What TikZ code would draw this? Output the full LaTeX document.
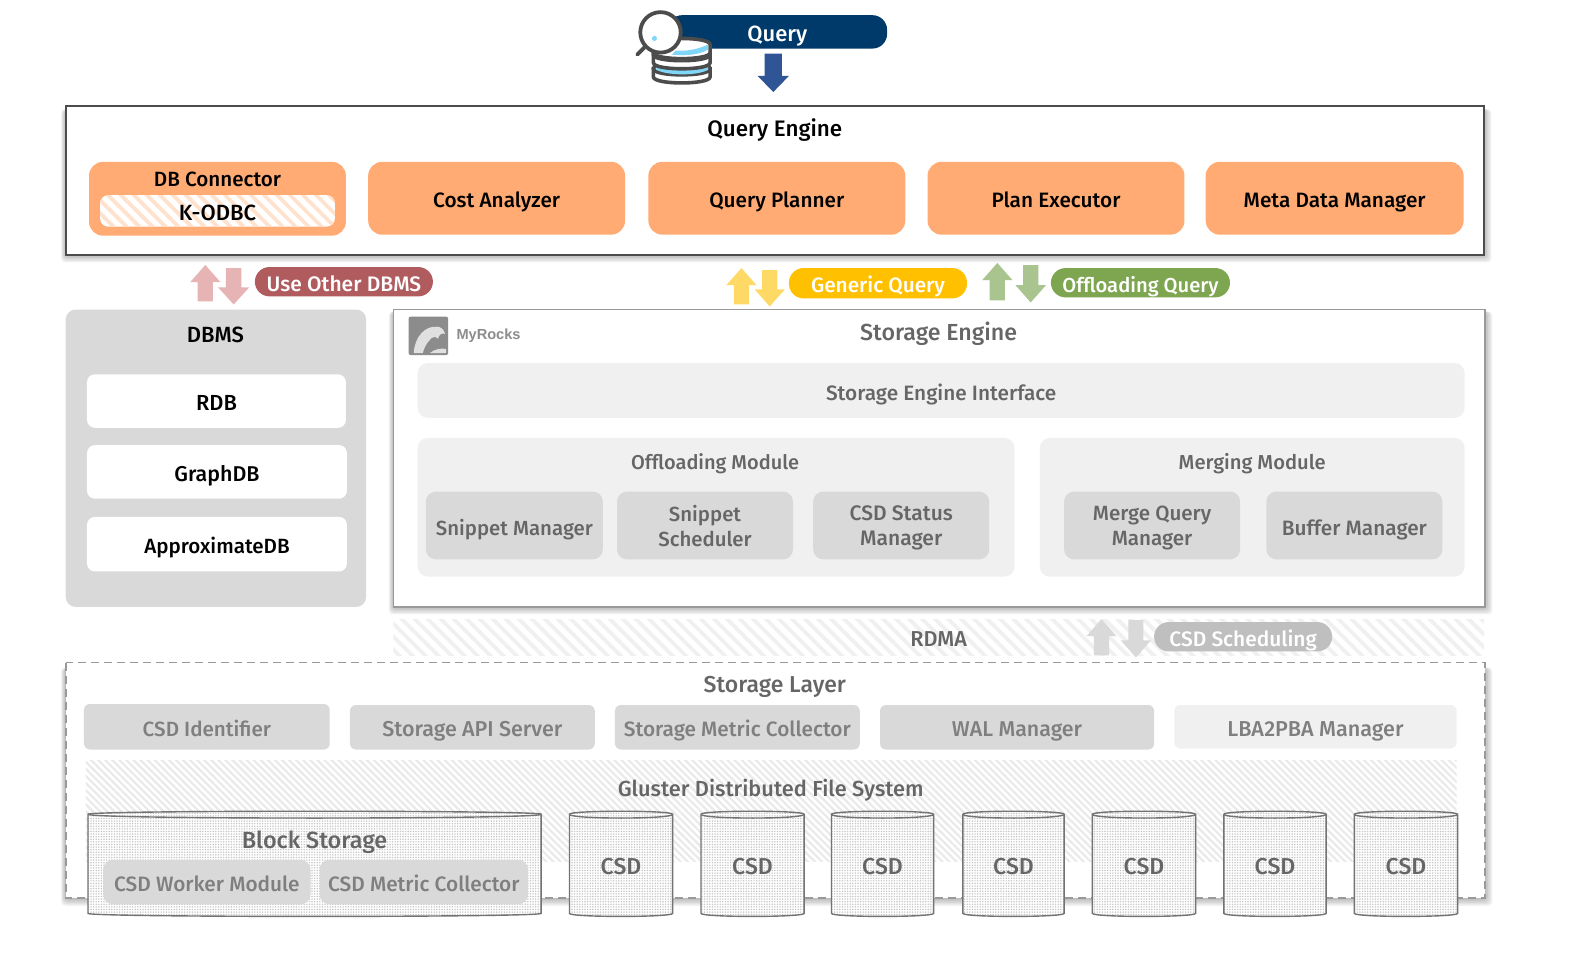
\documentclass[tikz,border=0pt]{standalone}
\usepackage{fontspec}
\setmainfont{Fira Sans Medium}
\usetikzlibrary{patterns.meta}
\definecolor{navy}{HTML}{003A6B}
\definecolor{barrow}{HTML}{2F5597}
\definecolor{orangebox}{HTML}{FFAB73}
\definecolor{txtgray}{HTML}{666666}
\definecolor{txtlight}{HTML}{7F7F7F}
\definecolor{dbgray}{HTML}{D9D9D9}
\definecolor{panel}{HTML}{F0F0F0}
\definecolor{hatchgray}{HTML}{EAEAEA}
\definecolor{redpill}{HTML}{B05C5F}
\definecolor{redarrow}{HTML}{E6B4B4}
\definecolor{yelpill}{HTML}{FFC000}
\definecolor{yelarrow}{HTML}{FFD966}
\definecolor{grnpill}{HTML}{7EA650}
\definecolor{grnarrow}{HTML}{A9C48E}
\newcommand{\lblstrutA}{\rule{0pt}{12.6pt}}
\newcommand{\lblstrutB}{\rule[-3pt]{0pt}{3pt}}
\tikzset{
  x=0.50574pt,y=-0.50574pt,
  fs/.style={font=\fontsize{#1}{12.6}\selectfont},
  lbl/.style={fs=10.4,align=center,inner sep=0pt,text=black,
     execute at begin node=\lblstrutA,execute at end node=\lblstrutB},
  glbl/.style={lbl,text=txtgray},
  twoline/.style={glbl,yshift=-1.5pt},
  llbl/.style={lbl,text=txtlight},
  wlbl/.style={lbl,text=white},
  orangeb/.style={fill=orangebox,rounded corners=7pt},
  whiteb/.style={fill=white,rounded corners=4pt},
  panelb/.style={fill=panel,rounded corners=5pt},
  grayb/.style={fill=dbgray,rounded corners=5pt},
  smallg/.style={fill=dbgray,rounded corners=3pt},
  smallp/.style={fill=panel,rounded corners=3pt},
  pill/.style={rounded corners=7.3pt},
  hatchwide/.style={pattern={Lines[angle=-45,distance=4.6pt,line width=1.9pt]},pattern color=#1},
  hatchfine/.style={pattern={Lines[angle=-45,distance=2.5pt,line width=1.1pt]},pattern color=#1},
  cyl/.style={draw=black!55,line width=0.7pt,
     preaction={fill=white},pattern={Dots[distance=1.3pt,radius=.42pt]},pattern color=black!22},
}
\newcommand{\softshadow}[4]{%
  \foreach \e in {0,1.5,...,7.5}{\fill[black,opacity=.055,rounded corners=2pt] (#1-\e*.6,#2) rectangle (#3+\e,#4+\e);}}
\newcommand{\uparrowblk}[5]{\fill[#5] (#1,#2) -- (#1+#4,#2+17) -- (#1+#4*0.5,#2+17) -- (#1+#4*0.5,#3) -- (#1-#4*0.5,#3) -- (#1-#4*0.5,#2+17) -- (#1-#4,#2+17) -- cycle;}
\newcommand{\downarrowblk}[5]{\fill[#5] (#1,#3) -- (#1+#4,#3-17) -- (#1+#4*0.5,#3-17) -- (#1+#4*0.5,#2) -- (#1-#4*0.5,#2) -- (#1-#4*0.5,#3-17) -- (#1-#4,#3-17) -- cycle;}
\newcommand{\bx}[8]{\path[#6] (#2,#3) rectangle node[#7] (#1) {#8} (#4,#5);}
\newcommand{\cylbody}[2]{%
  \path[cyl] (#1,805) -- (#1,903) .. controls (#1,907) and (#2,907) .. (#2,903) -- (#2,805) .. controls (#2,801) and (#1,801) .. (#1,805) -- cycle;
  \path[draw=black!55,line width=0.7pt] (#1,805) .. controls (#1,810) and (#2,810) .. (#2,805);}
\newcommand{\cylinder}[4]{%
  \cylbody{#2}{#3}
  \node[glbl,fs=11.5] (#1) at ({(#2+#3)/2},855) {#4};}
\begin{document}
\begin{tikzpicture}
\useasboundingbox (0,0) rectangle (1568,948);
\fill[white] (0,0) rectangle (1568,948);

% Query
\bx{query}{660}{15}{877}{48}{fill=navy,pill}{wlbl,fs=11}{Query}
\fill[barrow] (764.5,91) -- (780,75) -- (773,75) -- (773,53) -- (756,53) -- (756,75) -- (749,75) -- cycle;
% icon
\foreach \yy in {68,54}{
  \fill[white,draw=black!70,line width=1.8pt] (646,\yy) -- (646,\yy+8) .. controls (646,\yy+16) and (702,\yy+16) .. (702,\yy+8) -- (702,\yy) -- cycle;
  \fill[white,draw=black!70,line width=1.8pt] (646,\yy) .. controls (646,\yy-8) and (702,\yy-8) .. (702,\yy) .. controls (702,\yy+8) and (646,\yy+8) .. (646,\yy) -- cycle;
  \fill[cyan!50] (649,\yy+1) .. controls (660,\yy+7) and (690,\yy+7) .. (700,\yy+1) -- (700,\yy-3) .. controls (690,\yy+2) and (660,\yy+2) .. (649,\yy-3) -- cycle;
}
\fill[white,draw=black!70,line width=1.8pt] (646,44) -- (646,52) .. controls (646,60) and (702,60) .. (702,52) -- (702,44) .. controls (702,36) and (646,36) .. (646,44) -- cycle;
\fill[cyan!50] (668,50) .. controls (680,51) and (692,48) .. (700,44) -- (700,49) .. controls (690,55) and (675,55) .. (664,54) -- cycle;
\draw[black!70,line width=1.9pt,line cap=round] (637,47) -- (630,54);
\draw[black!70,line width=1.9pt,fill=white] (653,32) circle (20);
\fill[cyan!50] (647,38) circle (2.5);

% Query Engine
\softshadow{65}{108}{1467}{252}
\path[draw=black!70,line width=1.2pt,fill=white] (65,105) rectangle (1467,252);
\node[lbl,fs=11.2] (qe) at (766,125) {Query Engine};
\path[orangeb] (88,160) rectangle (342,233);
\node[lbl,fs=10.3] (dbctext) at (215,175) {DB Connector};
\fill[white,rounded corners=4pt] (99,193) rectangle (331,224);
\bx{kodbc}{99}{193}{331}{224}{hatchwide=orangebox!35,rounded corners=4pt}{lbl,fs=11}{K-ODBC}
\bx{cost}{364}{160}{618}{232}{orangeb}{lbl}{Cost Analyzer}
\bx{planner}{641}{160}{895}{232}{orangeb}{lbl}{Query Planner}
\bx{executor}{917}{160}{1171}{232}{orangeb}{lbl}{Plan Executor}
\bx{meta}{1192}{160}{1447}{232}{orangeb}{lbl}{Meta Data Manager}

% arrows between layers
\uparrowblk{203}{262}{298}{15}{redarrow}
\downarrowblk{231}{265}{301}{15.5}{redarrow}
\bx{other}{252}{264}{428}{293}{fill=redpill,pill}{wlbl,fs=10.5}{Use Other DBMS}
\uparrowblk{733}{265}{301}{15}{yelarrow}
\downarrowblk{761}{267}{303}{15}{yelarrow}
\bx{generic}{780}{265}{956}{295}{fill=yelpill,pill}{wlbl}{Generic Query}
\uparrowblk{986}{260}{297}{15}{grnarrow}
\downarrowblk{1019}{262}{299}{15}{grnarrow}
\bx{offq}{1039}{265}{1216}{294}{fill=grnpill,pill}{wlbl,fs=10.1}{Offloading Query}

% DBMS
\path[grayb] (65,306) rectangle (362,600);
\node[lbl,fs=11] (dbms) at (213,329) {DBMS};
\bx{rdb}{86}{370}{342}{423}{whiteb}{lbl,fs=10.9}{RDB}
\bx{graphdb}{86}{440}{343}{493}{whiteb}{lbl,fs=10.7}{GraphDB}
\bx{approx}{86}{511}{343}{565}{whiteb}{lbl,fs=10.3}{ApproximateDB}

% Storage engine
\softshadow{389}{308}{1468}{600}
\path[draw=black!40,line width=.9pt,fill=white] (389,306) rectangle (1468,600);
\node[glbl,fs=11.6] (se) at (928,327) {Storage Engine};
\fill[black!45,rounded corners=1pt] (404,313) rectangle (443,351);
\fill[black!12] (409,349) .. controls (410,333) and (420,322) .. (432,323) .. controls (436,323) and (439,326) .. (440,330) .. controls (436,329) and (434,331) .. (433,335) .. controls (431,332) and (427,333) .. (425,336) .. controls (421,340) and (419,345) .. (418,349) -- cycle;
\fill[black!12] (425,349) .. controls (430,345) and (436,344) .. (441,345) -- (441,349) -- cycle;
\node[inner sep=0pt] (myrocks) at (483,332) {\fontspec{Liberation Sans}\fontsize{7.3}{9}\selectfont\bfseries\color{black!45}MyRocks};
\bx{sei}{413}{359}{1448}{413}{panelb}{glbl}{Storage Engine Interface}
\path[panelb] (413,433) rectangle (1003,570);
\node[glbl,fs=10] (offt) at (707,455) {Offloading Module};
\path[panelb] (1028,433) rectangle (1448,570);
\node[glbl,fs=10.1] (mert) at (1238,455) {Merging Module};
\bx{snipm}{421}{486}{596}{553}{grayb}{glbl,fs=10.2}{Snippet Manager}
\bx{snips}{610}{486}{784}{553}{grayb}{twoline,fs=10.2}{Snippet\\Scheduler}
\bx{csds}{804}{486}{978}{553}{grayb}{twoline,fs=10.5}{CSD Status\\Manager}
\bx{mergeq}{1052}{486}{1226}{553}{grayb}{twoline,fs=10.3}{Merge Query\\Manager}
\bx{buffer}{1252}{486}{1426}{553}{grayb}{glbl}{Buffer Manager}

% RDMA
\bx{rdma}{389}{612}{1467}{648}{hatchwide=panel}{glbl,fs=10.8}{RDMA}
\uparrowblk{1089}{612}{648}{15}{dbgray}
\downarrowblk{1123}{613}{650}{15}{dbgray}
\bx{sched}{1141}{615}{1317}{644}{fill=black!25,pill}{wlbl,fs=10.45}{CSD Scheduling}

% Storage layer
\softshadow{65}{660}{1468}{888}
\fill[white] (65,655) rectangle (1468,888);
\path[draw=black!40,line width=.8pt,dash pattern=on 4pt off 2.5pt] (65,655) rectangle (1468,888);
\node[glbl,fs=11.5] (sl) at (766,675) {Storage Layer};
\bx{csdid}{83}{696}{326}{741}{smallg}{llbl,fs=10.3}{CSD Identifier}
\bx{api}{346}{697}{588}{741}{smallg}{llbl,fs=10.75}{Storage API Server}
\bx{metric}{608}{697}{850}{741}{smallg}{llbl}{Storage Metric Collector}
\bx{wal}{870}{697}{1141}{741}{smallg}{llbl,fs=10.7}{WAL Manager}
\bx{lba}{1161}{697}{1440}{740}{smallp}{llbl,fs=10.8}{LBA2PBA Manager}
\path[hatchfine=hatchgray] (85,752) rectangle (1440,852);
\node[glbl,fs=10.9] (gluster) at (762,778) {Gluster Distributed File System};

% cylinders
\cylbody{87}{535}
\node[glbl,fs=11.7] (block) at (311,829) {Block Storage};
\bx{worker}{102}{850}{307}{894}{grayb}{llbl}{CSD Worker Module}
\bx{cmetric}{316}{850}{522}{894}{grayb}{llbl}{CSD Metric Collector}
\cylinder{c1}{563}{665}{CSD}
\cylinder{c2}{693}{795}{CSD}
\cylinder{c3}{822}{923}{CSD}
\cylinder{c4}{952}{1052}{CSD}
\cylinder{c5}{1080}{1182}{CSD}
\cylinder{c6}{1210}{1311}{CSD}
\cylinder{c7}{1339}{1441}{CSD}
\end{tikzpicture}
\end{document}
